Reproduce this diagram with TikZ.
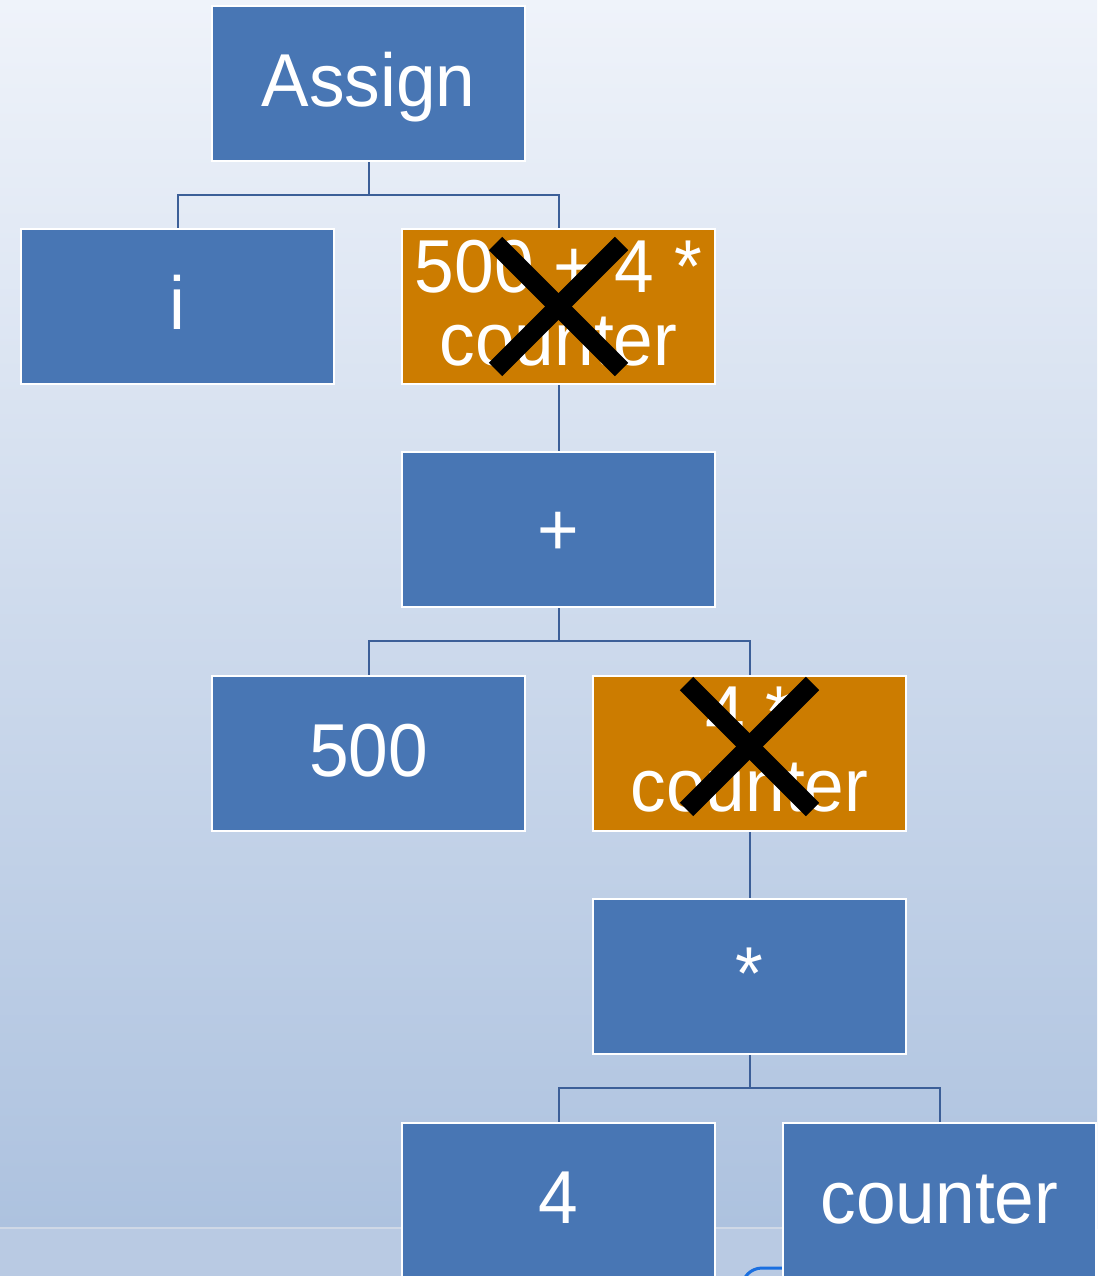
\documentclass[tikz,border=0pt]{standalone}
\usepackage{fontspec}
\setmainfont{Liberation Sans}[FakeStretch=0.95]
\definecolor{boxblue}{HTML}{4876B4}
\definecolor{boxorange}{HTML}{CC7C00}
\definecolor{connblue}{HTML}{3C5F98}
\definecolor{bgtop}{HTML}{EFF3FA}
\definecolor{bgbot}{HTML}{ADC2DF}
\definecolor{bglow}{HTML}{B9CAE3}
\definecolor{bgline}{HTML}{CFD8E6}
\definecolor{arcblue}{HTML}{1A6FE0}
\begin{document}
\begin{tikzpicture}[x=1pt,y=-1pt,
  boxbase/.style={rectangle, draw=white, line width=2.5pt, fill=boxblue,
    minimum width=313pt, minimum height=155pt, inner sep=0pt,
    text=white, align=center, font=\fontsize{75}{73}\selectfont},
  treebox/.style={boxbase, text height=54pt, text depth=7.5pt},
  crossed/.style={boxbase, fill=boxorange, text depth=8pt},
  conn/.style={draw=connblue, line width=2pt},
  xmark/.style={draw=black, line width=19pt}]
\useasboundingbox (0,0) rectangle (1097,1276);
\clip (0,0) rectangle (1097,1276);
% background
\shade[top color=bgtop, bottom color=bgbot] (0,0) rectangle (1097,1228);
\fill[bglow] (0,1228) rectangle (1097,1276);
\draw[bgline, line width=2pt] (0,1228) -- (1097,1228);
% partial outline at bottom
\draw[arcblue, line width=3pt] (742,1300) -- (742,1288) arc[start angle=180, end angle=270, radius=20] -- (800,1268);
% nodes
\node[treebox] (assign) at (368.5,83.5) {Assign};
\node[treebox] (i) at (177.5,306.5) {i};
\node[crossed] (e1) at (558.5,306.5) {500 + 4 *\\counter};
\node[treebox] (plus) at (558.5,529.5) {\raisebox{-3pt}{+}};
\node[treebox] (n500) at (368.5,753.5) {500};
\node[crossed] (e2) at (749.5,753.5) {4 *\\counter};
\node[treebox] (mul) at (749.5,976.5) {*};
\node[treebox] (four) at (558.5,1200.5) {4};
\node[treebox] (cnt) at (939.5,1200.5) {counter};
% connectors
\draw[conn] (assign.south) -- ++(0,33) coordinate (j1) -| (i.north);
\draw[conn] (j1) -| (e1.north);
\draw[conn] (e1.south) -- (plus.north);
\draw[conn] (plus.south) -- ++(0,33) coordinate (j2) -| (n500.north);
\draw[conn] (j2) -| (e2.north);
\draw[conn] (e2.south) -- (mul.north);
\draw[conn] (mul.south) -- ++(0,33) coordinate (j3) -| (four.north);
\draw[conn] (j3) -| (cnt.north);
% crosses
\draw[xmark] ([shift={(-63,-63)}]e1.center) -- ([shift={(63,63)}]e1.center);
\draw[xmark] ([shift={(63,-63)}]e1.center) -- ([shift={(-63,63)}]e1.center);
\draw[xmark] ([shift={(-63,-70)}]e2.center) -- ([shift={(63,56)}]e2.center);
\draw[xmark] ([shift={(63,-70)}]e2.center) -- ([shift={(-63,56)}]e2.center);
\end{tikzpicture}
\end{document}
